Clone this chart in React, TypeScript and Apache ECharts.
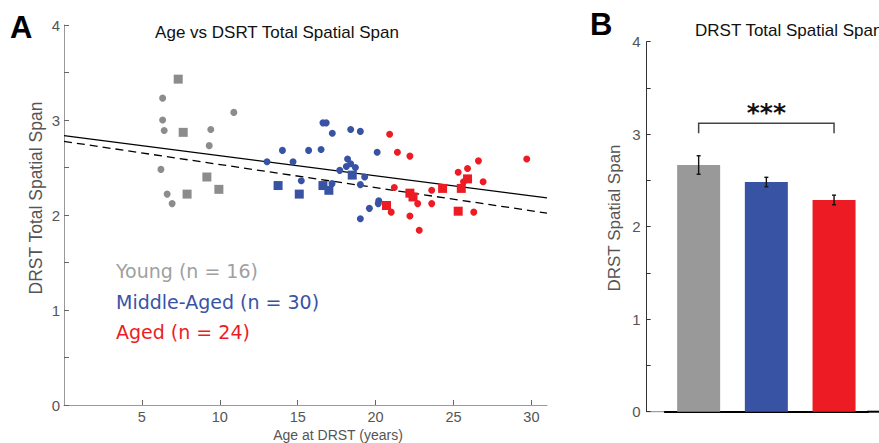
import React, { useEffect, useRef } from "react";
import * as echarts from "echarts";

// ---------- Panel A data (age in years, DRST total spatial span) ----------
const youngCircles: number[][] = [
  [6.33, 3.23], [6.33, 3.0], [6.43, 2.89], [9.42, 2.9], [10.9, 3.08],
  [9.32, 2.73], [6.22, 2.48], [6.62, 2.22], [6.94, 2.12],
];
const youngSquares: number[][] = [
  [7.33, 3.43], [7.65, 2.87], [9.17, 2.4], [9.94, 2.27], [7.9, 2.22],
];
const middleCircles: number[][] = [
  [16.62, 2.97], [16.83, 2.97], [17.22, 2.86], [18.4, 2.9], [19.02, 2.88],
  [14.02, 2.68], [15.7, 2.68], [16.5, 2.69], [20.1, 2.66], [13.03, 2.56],
  [14.7, 2.56], [18.2, 2.59], [18.4, 2.54], [18.12, 2.51], [18.7, 2.5],
  [17.7, 2.47], [19.3, 2.4], [15.23, 2.36], [17.2, 2.33], [19.02, 2.32],
  [20.2, 2.15], [20.17, 2.12], [19.6, 2.07], [19.02, 1.96],
];
const middleSquares: number[][] = [
  [18.5, 2.42], [13.74, 2.31], [16.62, 2.31], [17.0, 2.26], [15.1, 2.22],
];
const agedCircles: number[][] = [
  [20.9, 2.85], [21.4, 2.66], [22.2, 2.62], [29.7, 2.59], [26.6, 2.57],
  [25.9, 2.49], [25.3, 2.45], [25.64, 2.35], [26.9, 2.35], [21.2, 2.29],
  [23.6, 2.26], [22.7, 2.12], [23.6, 2.12], [21.0, 2.03], [26.3, 2.03],
  [22.2, 1.99], [22.8, 1.84],
];
const agedSquares: number[][] = [
  [25.9, 2.38], [24.3, 2.28], [25.5, 2.28], [22.2, 2.23], [22.4, 2.19],
  [20.7, 2.1], [25.3, 2.04],
];
const fitSolid: number[][] = [[0, 2.835], [31, 2.18]];
const fitDashed: number[][] = [[0, 2.775], [31, 2.02]];
const xTickValues = [5, 10, 15, 20, 25, 30];
const legendLines = ["Young (n = 16)", "Middle-Aged (n = 30)", "Aged (n = 24)"];

// ---------- Panel B data ----------
const groups = ["Young", "Middle-Aged", "Aged"];
const groupMeans = [2.667, 2.483, 2.289];
const groupSems = [0.1, 0.051, 0.052];
const sigPair = [0, 2];
const sigLabel = "***";

const GRAY = "#8c8c8c";
const BAR_GRAY = "#999999";
const BLUE = "#3953a4";
const RED = "#ed1c24";
const LEGEND_GRAY = "#a0a0a0";
const FONT = "Liberation Sans, Arial, sans-serif";

export default function App() {
  const ref = useRef<HTMLDivElement>(null);
  useEffect(() => {
    if (!ref.current) return;
    const chart = echarts.init(ref.current, undefined, { renderer: "svg" });
    const scatter = (data: number[][], color: string, symbol: string, size: number) => ({
      type: "scatter",
      xAxisIndex: 0,
      yAxisIndex: 0,
      data,
      symbol,
      symbolSize: size,
      itemStyle: { color, opacity: 1 },
      z: 3,
    });
    const errData = groupMeans.map((m, i) => [i, m - groupSems[i], m + groupSems[i]]);
    const option: any = {
      animation: false,
      backgroundColor: "#ffffff",
      textStyle: { fontFamily: FONT },
      grid: [
        { left: 64, top: 25, width: 483, height: 380 },
        { left: 664.8, top: 41.7, width: 203.1, height: 370 },
      ],
      xAxis: [
        {
          type: "value",
          gridIndex: 0,
          min: 0,
          max: 31,
          splitLine: { show: false },
          axisLine: { lineStyle: { color: "#999999", width: 1 } },
          axisTick: { inside: true, length: 5, customValues: xTickValues, lineStyle: { color: "#666" } },
          axisLabel: { customValues: xTickValues, color: "#555", fontSize: 14.5, margin: 4, fontFamily: FONT },
        },
        {
          type: "category",
          gridIndex: 1,
          data: groups,
          axisLine: { lineStyle: { color: "#000", width: 2 } },
          axisTick: { inside: true, alignWithLabel: true, length: 5, lineStyle: { color: "#222", width: 1 } },
          axisLabel: { show: false },
        },
      ],
      yAxis: [
        {
          type: "value",
          gridIndex: 0,
          min: 0,
          max: 4,
          interval: 0.5,
          splitLine: { show: false },
          axisLine: { show: true, lineStyle: { color: "#999999", width: 1 } },
          axisTick: { show: true, inside: true, length: 5, lineStyle: { color: "#666" } },
          axisLabel: {
            color: "#555",
            fontSize: 15,
            margin: 4,
            fontFamily: FONT,
            formatter: (v: number) => (Number.isInteger(v) ? String(v) : ""),
          },
        },
        {
          type: "value",
          gridIndex: 1,
          min: 0,
          max: 4,
          interval: 0.5,
          offset: 18.1,
          splitLine: { show: false },
          axisLine: { show: true, lineStyle: { color: "#333", width: 1 } },
          axisTick: { show: true, inside: true, length: 4, lineStyle: { color: "#333" } },
          axisLabel: {
            color: "#555",
            fontSize: 15,
            margin: 6,
            fontFamily: FONT,
            formatter: (v: number) => (Number.isInteger(v) ? String(v) : ""),
          },
        },
      ],
      series: [
        {
          type: "line",
          xAxisIndex: 0,
          yAxisIndex: 0,
          data: fitSolid,
          symbol: "none",
          lineStyle: { color: "#000", width: 1.3 },
          z: 2,
        },
        {
          type: "line",
          xAxisIndex: 0,
          yAxisIndex: 0,
          data: fitDashed,
          symbol: "none",
          lineStyle: { color: "#000", width: 1.3, type: [8, 5] },
          z: 2,
        },
        scatter(youngCircles, GRAY, "circle", 7),
        scatter(youngSquares, GRAY, "rect", 9),
        scatter(middleCircles, BLUE, "circle", 7),
        scatter(middleSquares, BLUE, "rect", 9),
        scatter(agedCircles, RED, "circle", 7),
        scatter(agedSquares, RED, "rect", 9),
        {
          type: "bar",
          xAxisIndex: 1,
          yAxisIndex: 1,
          barWidth: 43,
          data: groupMeans.map((v, i) => ({
            value: v,
            itemStyle: { color: [BAR_GRAY, BLUE, RED][i] },
          })),
          z: 2,
        },
        {
          type: "custom",
          xAxisIndex: 1,
          yAxisIndex: 1,
          data: errData,
          encode: { x: 0, y: [1, 2] },
          z: 4,
          renderItem: (_p: any, api: any) => {
            const lo = api.coord([api.value(0), api.value(1)]);
            const hi = api.coord([api.value(0), api.value(2)]);
            const c = 2;
            const st = { stroke: "#111", lineWidth: 1.4 };
            return {
              type: "group",
              children: [
                { type: "line", shape: { x1: hi[0], y1: hi[1], x2: lo[0], y2: lo[1] }, style: st },
                { type: "line", shape: { x1: hi[0] - c, y1: hi[1], x2: hi[0] + c, y2: hi[1] }, style: st },
                { type: "line", shape: { x1: lo[0] - c, y1: lo[1], x2: lo[0] + c, y2: lo[1] }, style: st },
              ],
            };
          },
        },
        {
          type: "custom",
          xAxisIndex: 1,
          yAxisIndex: 1,
          data: [[sigPair[0], sigPair[1], 3.118, 3.01]],
          encode: { x: [0, 1], y: [2, 3] },
          z: 4,
          renderItem: (_p: any, api: any) => {
            const a = api.coord([api.value(0), api.value(2)]);
            const b = api.coord([api.value(1), api.value(2)]);
            const a2 = api.coord([api.value(0), api.value(3)]);
            const b2 = api.coord([api.value(1), api.value(3)]);
            return {
              type: "group",
              children: [
                {
                  type: "polyline",
                  shape: { points: [[a2[0], a2[1]], [a[0], a[1]], [b[0], b[1]], [b2[0], b2[1]]] },
                  style: { stroke: "#444", lineWidth: 1.5, fill: "none" },
                },
                {
                  type: "text",
                  x: (a[0] + b[0]) / 2,
                  y: a[1] + 2,
                  style: {
                    text: sigLabel,
                    fontFamily: "DejaVu Sans",
                    fontSize: 25,
                    fontWeight: "bold",
                    fill: "#111",
                    align: "center",
                    verticalAlign: "bottom",
                  },
                },
              ],
            };
          },
        },
      ],
      graphic: [
        { type: "text", x: 10, y: 12, style: { text: "A", fontFamily: FONT, fontWeight: 900, fontSize: 31, fill: "#000" } },
        { type: "text", x: 590, y: 9, style: { text: "B", fontFamily: FONT, fontWeight: 900, fontSize: 31, fill: "#000" } },
        {
          type: "text",
          x: 277,
          y: 24,
          style: { text: "Age vs DSRT Total Spatial Span", fontFamily: FONT, fontSize: 17, fill: "#111", align: "center" },
        },
        {
          type: "text",
          x: 695,
          y: 22,
          style: { text: "DRST Total Spatial Span", fontFamily: FONT, fontSize: 17, fill: "#111", align: "left" },
        },
        {
          type: "text",
          x: 36,
          y: 198,
          rotation: Math.PI / 2,
          style: { text: "DRST Total Spatial Span", fontFamily: FONT, fontSize: 17.5, fill: "#555", align: "center", verticalAlign: "middle" },
        },
        {
          type: "text",
          x: 338,
          y: 435,
          style: { text: "Age at DRST (years)", fontFamily: FONT, fontSize: 14, fill: "#555", align: "center", verticalAlign: "middle" },
        },
        {
          type: "text",
          x: 614,
          y: 218,
          rotation: Math.PI / 2,
          style: { text: "DRST Spatial Span", fontFamily: FONT, fontSize: 17, fill: "#555", align: "center", verticalAlign: "middle" },
        },
        ...legendLines.map((t, i) => ({
          type: "text",
          x: 116,
          y: 271 + i * 30.5,
          style: { text: t, fontFamily: "DejaVu Sans", fontSize: 19, fill: [LEGEND_GRAY, BLUE, RED][i], align: "left", verticalAlign: "middle" },
        })),
        { type: "line", shape: { x1: 646.7, y1: 411.7, x2: 665, y2: 411.7 }, style: { stroke: "#888", lineWidth: 1 } },
        { type: "line", shape: { x1: 867, y1: 411.7, x2: 879, y2: 411.7 }, style: { stroke: "#000", lineWidth: 2 } },
      ],
    };
    chart.setOption(option);
    return () => chart.dispose();
  }, []);
  return <div ref={ref} style={{ width: 879, height: 443, position: "absolute", left: 0, top: 0 }} />;
}
